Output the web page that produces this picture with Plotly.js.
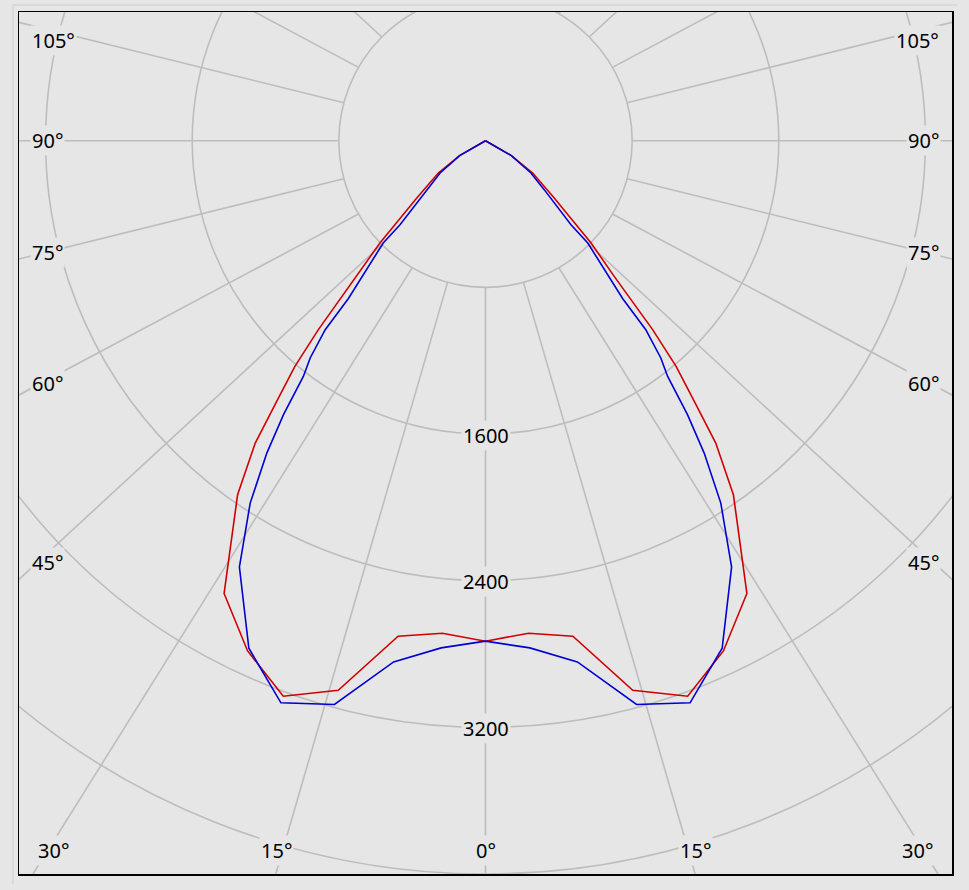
<!DOCTYPE html>
<html>
<head>
<meta charset="utf-8">
<script src="https://cdn.plot.ly/plotly-3.0.1.min.js"></script>
<style>html,body{margin:0;padding:0;background:#e6e6e6;overflow:hidden;}</style>
</head>
<body>
<div id="chart" style="width:969px;height:890px;"></div>
<script>
// ---- data: angle from nadir (deg) and intensity (cd) ----
const redAngles  = [0, 5, 10, 15, 20, 25, 30, 35, 37.3, 38.7, 40.2, 41.5, 43.5, 45.9, 50.2, 55.6, 60, 90];
const redValues  = [2730, 2697, 2745, 3104, 3225, 3071, 2852, 2358, 2073, 1822, 1611, 1376, 1020, 802, 488, 312, 163, 0];
const blueAngles = [0, 5, 10, 15, 20, 25, 30, 33, 35, 36.4, 37.7, 38.9, 40.3, 41, 45, 45.5, 50.2, 54.6, 60, 90];
const blueValues = [2730, 2777, 2887, 3184, 3263, 3055, 2685, 2357, 2080, 1857, 1625, 1523, 1352, 1140, 789, 654, 417, 304, 163, 0];

// ---- grid ----
const ringValues = [800, 1600, 2400, 3200, 4000, 4800];
const ringLabels = ['1600', '2400', '3200'];
const rayAngles = [0,15,30,45,60,75,90,105,120,135,150,165,180,195,210,225,240,255,270,285,300,315,330,345];
const sideLabels = ['105°', '90°', '75°', '60°', '45°'];
const bottomLabels = ['30°', '15°', '0°', '15°', '30°'];

// ---- layout geometry (pixels) ----
const W = 969, H = 890;
const L = 19, R = 17, T = 12, B = 16;
const plotW = W - L - R, plotH = H - T - B;
const xRange = [-2545, 2545];
const yRange = [-4000, 4000 * (plotH / 733.3) - 4000];
const gridColor = '#bdbdbd';
const bg = '#e6e6e6';
const labelFont = {family: 'Noto Sans, DejaVu Sans, sans-serif', size: 20, color: '#000'};

const rad = d => d * Math.PI / 180;

function curveXY(angles, values) {
  const xs = [], ys = [];
  for (let i = angles.length - 1; i >= 0; i--) {
    xs.push(values[i] * Math.sin(rad(angles[i])));
    ys.push(-values[i] * Math.cos(rad(angles[i])));
  }
  for (let i = 1; i < angles.length; i++) {
    xs.push(-values[i] * Math.sin(rad(angles[i])));
    ys.push(-values[i] * Math.cos(rad(angles[i])));
  }
  return {xs, ys};
}

const red = curveXY(redAngles, redValues);
const blue = curveXY(blueAngles, blueValues);

const traces = [
  {type: 'scatter', mode: 'lines', x: red.xs, y: red.ys,
   line: {color: '#d00000', width: 1.6}, hoverinfo: 'skip', showlegend: false},
  {type: 'scatter', mode: 'lines', x: blue.xs, y: blue.ys,
   line: {color: '#0000d0', width: 1.6}, hoverinfo: 'skip', showlegend: false}
];

const shapes = [];
ringValues.forEach(r => {
  shapes.push({type: 'circle', xref: 'x', yref: 'y', x0: -r, x1: r, y0: -r, y1: r,
    line: {color: gridColor, width: 1.6}, layer: 'below'});
});
const inner = ringValues[0];
const far = 8000, stretch = 1.075;
rayAngles.forEach(a => {
  const s = Math.sin(rad(a)), c = Math.cos(rad(a));
  shapes.push({type: 'line', xref: 'x', yref: 'y',
    x0: inner * s, y0: -inner * c, x1: far * stretch * s, y1: -far * c,
    line: {color: gridColor, width: 1.6}, layer: 'below'});
});
// faint outer frame (top and left)
const px = v => (v - L) / plotW;
const py = v => (H - B - v) / plotH;
shapes.push({type: 'line', xref: 'paper', yref: 'paper', x0: px(13), x1: px(957), y0: py(5), y1: py(5),
  line: {color: '#cdcdcd', width: 1}});
shapes.push({type: 'line', xref: 'paper', yref: 'paper', x0: px(13), x1: px(13), y0: py(5), y1: py(884),
  line: {color: '#cdcdcd', width: 1}});

const annotations = [];
ringLabels.forEach(t => {
  annotations.push({xref: 'x', yref: 'y', x: 0, y: -Number(t), text: t, showarrow: false,
    font: labelFont, bgcolor: bg, borderpad: 1, xanchor: 'center', yanchor: 'middle', yshift: -1});
});
const sideY = [41, 141, 253, 383, 562];
sideLabels.forEach((t, i) => {
  annotations.push({xref: 'paper', yref: 'paper', x: px(30), y: py(sideY[i]), text: t, showarrow: false,
    font: labelFont, bgcolor: bg, borderpad: 1, xanchor: 'left', yanchor: 'middle'});
  annotations.push({xref: 'paper', yref: 'paper', x: px(941), y: py(sideY[i]), text: t, showarrow: false,
    font: labelFont, bgcolor: bg, borderpad: 1, xanchor: 'right', yanchor: 'middle'});
});
const bottomX = [53, 276, 486, 695, 917];
bottomLabels.forEach((t, i) => {
  annotations.push({xref: 'paper', yref: 'paper', x: px(bottomX[i]), y: py(850), text: t, showarrow: false,
    font: labelFont, bgcolor: bg, borderpad: 1, xanchor: 'center', yanchor: 'middle'});
});

const axisCommon = {showgrid: false, zeroline: false, showticklabels: false, ticks: '',
  showline: true, mirror: true, linecolor: '#000', linewidth: 1.5, fixedrange: true};

const layout = {
  width: W, height: H,
  margin: {l: L, r: R, t: T, b: B, pad: 0},
  paper_bgcolor: bg, plot_bgcolor: bg,
  xaxis: Object.assign({range: xRange}, axisCommon),
  yaxis: Object.assign({range: yRange}, axisCommon),
  shapes: shapes,
  annotations: annotations,
  showlegend: false
};

Plotly.newPlot('chart', traces, layout, {displayModeBar: false, staticPlot: true});
</script>
</body>
</html>
